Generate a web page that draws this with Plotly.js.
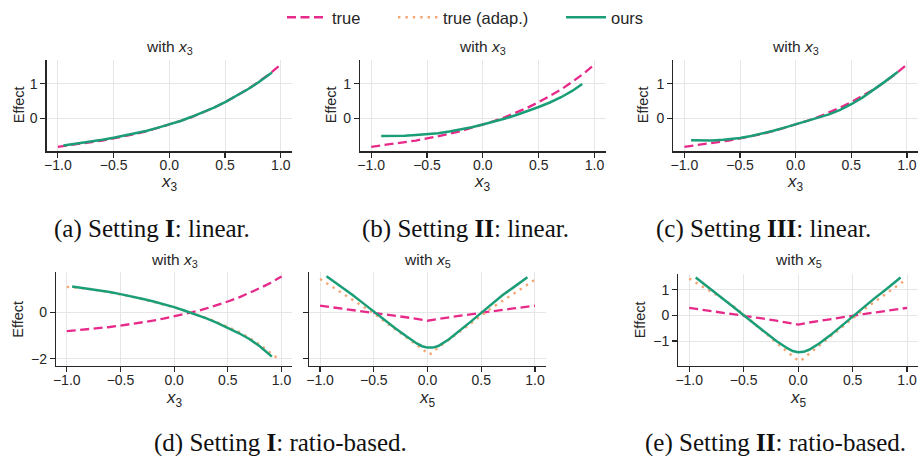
<!DOCTYPE html>
<html>
<head>
<meta charset="utf-8">
<script src="https://cdn.plot.ly/plotly-3.0.1.min.js"></script>
<style>
  html, body { margin: 0; padding: 0; background: #fff; }
  #fig { width: 918px; height: 456px; }
</style>
</head>
<body>
<div id="fig"></div>
<script>
// ---- data -------------------------------------------------------------
// grid of feature values for the reference ("true") curves
const xGrid = [-1.0,-0.9,-0.8,-0.7,-0.6,-0.5,-0.4,-0.3,-0.2,-0.1,0.0,0.1,0.2,0.3,0.4,0.5,0.6,0.7,0.8,0.9,1.0];
// true effect of x3 and x5
const trueX3 = [-0.81,-0.77,-0.73,-0.68,-0.63,-0.57,-0.51,-0.44,-0.36,-0.27,-0.17,-0.07,0.04,0.17,0.31,0.47,0.64,0.83,1.05,1.28,1.55];
const trueX5 = [0.29,0.23,0.17,0.11,0.05,0.00,-0.07,-0.14,-0.21,-0.28,-0.36,-0.28,-0.21,-0.14,-0.07,0.00,0.05,0.11,0.17,0.23,0.29];

// (a) Setting I, linear
const oursA_x = [-0.95,-0.9,-0.8,-0.7,-0.6,-0.5,-0.4,-0.3,-0.2,-0.1,0.0,0.1,0.2,0.3,0.4,0.5,0.6,0.7,0.8,0.92];
const oursA_y = [-0.77,-0.75,-0.70,-0.66,-0.61,-0.55,-0.49,-0.42,-0.35,-0.26,-0.17,-0.07,0.05,0.17,0.31,0.47,0.64,0.83,1.04,1.32];

// (b) Setting II, linear
const oursB_x = [-0.91,-0.8,-0.7,-0.6,-0.5,-0.4,-0.3,-0.2,-0.1,0.0,0.1,0.2,0.3,0.4,0.5,0.6,0.7,0.8,0.89];
const oursB_y = [-0.50,-0.50,-0.49,-0.47,-0.45,-0.42,-0.37,-0.32,-0.25,-0.17,-0.09,0.00,0.10,0.21,0.33,0.46,0.61,0.79,0.99];

// (c) Setting III, linear
const oursC_x = [-0.94,-0.85,-0.75,-0.65,-0.55,-0.5,-0.4,-0.3,-0.2,-0.1,0.0,0.1,0.2,0.3,0.4,0.5,0.6,0.7,0.8,0.92];
const oursC_y = [-0.62,-0.63,-0.63,-0.61,-0.58,-0.56,-0.50,-0.43,-0.35,-0.26,-0.17,-0.08,0.02,0.12,0.25,0.41,0.60,0.82,1.05,1.34];

// (d) Setting I, ratio-based: x3 panel
const adapD_x = [-1.0,-0.9,-0.8,-0.7,-0.6,-0.5,-0.4,-0.3,-0.2,-0.1,0.0,0.1,0.2,0.3,0.4,0.5,0.6,0.7,0.8,0.9,0.98];
const adapD_y = [1.10,1.07,1.02,0.95,0.87,0.78,0.69,0.58,0.47,0.35,0.22,0.08,-0.07,-0.24,-0.42,-0.62,-0.84,-1.10,-1.40,-1.76,-2.04];
const oursD_x = [-0.95,-0.9,-0.8,-0.7,-0.6,-0.5,-0.4,-0.3,-0.2,-0.1,0.0,0.1,0.2,0.3,0.4,0.5,0.6,0.7,0.8,0.91];
const oursD_y = [1.12,1.09,1.03,0.96,0.88,0.79,0.70,0.59,0.48,0.36,0.23,0.07,-0.08,-0.26,-0.45,-0.66,-0.89,-1.15,-1.47,-1.91];

// (d) Setting I, ratio-based: x5 panel
const adapD5_x = [-1.0,-0.9,-0.8,-0.7,-0.6,-0.5,-0.4,-0.3,-0.2,-0.1,0.0,0.02,0.1,0.2,0.3,0.4,0.5,0.6,0.7,0.8,0.9,1.0];
const adapD5_y = [1.44,1.15,0.85,0.56,0.27,-0.04,-0.39,-0.74,-1.08,-1.43,-1.78,-1.82,-1.52,-1.17,-0.82,-0.47,-0.12,0.20,0.50,0.80,1.10,1.41];
const oursD5_x = [-0.94,-0.8,-0.7,-0.6,-0.5,-0.4,-0.3,-0.2,-0.1,-0.05,0.0,0.05,0.1,0.2,0.3,0.4,0.5,0.6,0.7,0.8,0.93];
const oursD5_y = [1.56,1.10,0.76,0.40,0.03,-0.33,-0.68,-1.02,-1.34,-1.46,-1.52,-1.52,-1.45,-1.16,-0.80,-0.41,-0.02,0.37,0.75,1.08,1.52];

// (e) Setting II, ratio-based: x5 panel
const adapE_x = [-1.0,-0.9,-0.8,-0.7,-0.6,-0.5,-0.4,-0.3,-0.2,-0.1,0.0,0.02,0.1,0.2,0.3,0.4,0.5,0.6,0.7,0.8,0.9,1.0];
const adapE_y = [1.43,1.18,0.93,0.67,0.37,0.04,-0.34,-0.71,-1.07,-1.42,-1.76,-1.78,-1.50,-1.15,-0.80,-0.45,-0.10,0.22,0.52,0.82,1.12,1.42];
const oursE_x = [-0.94,-0.9,-0.8,-0.7,-0.6,-0.5,-0.4,-0.3,-0.2,-0.1,-0.05,0.0,0.05,0.1,0.2,0.3,0.4,0.5,0.6,0.7,0.8,0.94];
const oursE_y = [1.47,1.34,1.01,0.68,0.34,0.00,-0.34,-0.68,-1.00,-1.28,-1.39,-1.44,-1.42,-1.34,-1.08,-0.76,-0.40,-0.03,0.32,0.66,0.99,1.47];

const seriesNames = ['true', 'true (adap.)', 'ours'];
const captions = [
  '(a) Setting <b>I</b>: linear.',
  '(b) Setting <b>II</b>: linear.',
  '(c) Setting <b>III</b>: linear.',
  '(d) Setting <b>I</b>: ratio-based.',
  '(e) Setting <b>II</b>: ratio-based.'
];

// ---- styling ----------------------------------------------------------
const PINK = '#e7298a', PEACH = '#f5a673', GREEN = '#1b9e77';
const INK = '#262626', GRID = '#e6e6e6';
const SANS = 'Liberation Sans, Arial, sans-serif';
const W = 918, H = 456;

const lineTrue = {color: PINK, width: 2.3, dash: '9px,4.5px'};
const lineAdap = {color: PEACH, width: 2.4, dash: '2.4px,5px'};
const lineOurs = {color: GREEN, width: 2.5};

function tr(x, y, name, line, ax, legendId, show) {
  return {
    type: 'scatter', mode: 'lines', x: x, y: y, name: name, line: line,
    xaxis: 'x' + ax, yaxis: 'y' + ax, legend: legendId, showlegend: show,
    hoverinfo: 'skip'
  };
}

const traces = [
  // (a)
  tr(xGrid, trueX3, seriesNames[0], lineTrue, '', 'legend', true),
  tr(oursA_x, oursA_y, seriesNames[2], lineOurs, '', 'legend3', true),
  // (b)
  tr(xGrid, trueX3, seriesNames[0], lineTrue, '2', 'legend', false),
  tr(oursB_x, oursB_y, seriesNames[2], lineOurs, '2', 'legend3', false),
  // (c)
  tr(xGrid, trueX3, seriesNames[0], lineTrue, '3', 'legend', false),
  tr(oursC_x, oursC_y, seriesNames[2], lineOurs, '3', 'legend3', false),
  // (d) x3
  tr(xGrid, trueX3, seriesNames[0], lineTrue, '4', 'legend', false),
  tr(adapD_x, adapD_y, seriesNames[1], lineAdap, '4', 'legend2', true),
  tr(oursD_x, oursD_y, seriesNames[2], lineOurs, '4', 'legend3', false),
  // (d) x5
  tr(xGrid, trueX5, seriesNames[0], lineTrue, '5', 'legend', false),
  tr(adapD5_x, adapD5_y, seriesNames[1], lineAdap, '5', 'legend2', false),
  tr(oursD5_x, oursD5_y, seriesNames[2], lineOurs, '5', 'legend3', false),
  // (e) x5
  tr(xGrid, trueX5, seriesNames[0], lineTrue, '6', 'legend', false),
  tr(adapE_x, adapE_y, seriesNames[1], lineAdap, '6', 'legend2', false),
  tr(oursE_x, oursE_y, seriesNames[2], lineOurs, '6', 'legend3', false)
];

// pixel boxes of the six plotting areas: [left, right, top, bottom]
const boxes = [
  [46.7, 292, 59, 150.7],
  [360, 605.7, 59, 150.7],
  [673.3, 918, 59, 150.7],
  [56, 292.3, 271.7, 365.7],
  [309.3, 545.7, 271.7, 365.7],
  [678.3, 918, 273.3, 366]
];
const yRanges = [[-0.94, 1.68], [-0.94, 1.68], [-0.94, 1.68], [-2.31, 1.74], [-2.31, 1.74], [-1.98, 1.62]];
const yDticks = [1, 1, 1, 2, 2, 1];

const common = {
  showgrid: true, gridcolor: GRID, gridwidth: 1, zeroline: false,
  showline: true, linecolor: INK, linewidth: 1.25,
  ticks: 'outside', ticklen: 5, tickwidth: 1.25, tickcolor: INK,
  tickfont: {family: SANS, size: 14, color: INK}
};

const layout = {
  width: W, height: H,
  margin: {l: 0, r: 0, t: 0, b: 0},
  paper_bgcolor: '#fff', plot_bgcolor: '#fff',
  font: {family: SANS, color: INK},
  annotations: [], showlegend: true
};

boxes.forEach((b, i) => {
  const s = i === 0 ? '' : String(i + 1);
  layout['xaxis' + s] = Object.assign({}, common, {
    domain: [b[0] / W, b[1] / W], anchor: 'y' + s,
    range: [-1.1, 1.1], tick0: 0, dtick: 0.5, tickformat: '.1f',
    ticklabelstandoff: -4
  });
  layout['yaxis' + s] = Object.assign({}, common, {
    domain: [1 - b[3] / H, 1 - b[2] / H], anchor: 'x' + s,
    range: yRanges[i], tick0: 0, dtick: yDticks[i], tickformat: 'd',
    showticklabels: i !== 4
  });
});

const ann = layout.annotations;
const sub = ['3', '3', '3', '3', '5', '5'];
boxes.forEach((b, i) => {
  const cx = (b[0] + b[1]) / 2 / W;
  const row = i < 3 ? 0 : 1;
  // panel title
  ann.push({
    xref: 'paper', yref: 'paper', x: cx, y: 1 - (row ? 260 : 47) / H,
    xanchor: 'center', yanchor: 'middle', showarrow: false,
    text: 'with <i>x</i><sub>' + sub[i] + '</sub>',
    font: {family: SANS, size: 15.5, color: INK}
  });
  // x-axis title
  ann.push({
    xref: 'paper', yref: 'paper', x: cx, y: 1 - (row ? 399 : 182) / H,
    xanchor: 'center', yanchor: 'middle', showarrow: false,
    text: '<i>x</i><sub>' + sub[i] + '</sub>',
    font: {family: SANS, size: 17, color: INK}
  });
});
// y-axis titles
[[19, 104.5], [331, 104.5], [643, 104.5], [17.7, 318.7], [640, 320]].forEach(p => {
  ann.push({
    xref: 'paper', yref: 'paper', x: p[0] / W, y: 1 - p[1] / H,
    xanchor: 'center', yanchor: 'middle', showarrow: false, textangle: -90,
    text: 'Effect', font: {family: SANS, size: 14.5, color: INK}
  });
});
// sub-figure captions
[[152, 228], [465, 228], [763, 228], [280, 443], [775, 443]].forEach((p, i) => {
  ann.push({
    xref: 'paper', yref: 'paper', x: p[0] / W, y: 1 - p[1] / H,
    xanchor: 'center', yanchor: 'middle', showarrow: false,
    text: captions[i],
    font: {family: 'Liberation Serif, Times New Roman, serif', size: 25, color: '#111'}
  });
});

// one legend box per series, laid out in a row across the top
const legendBase = {
  orientation: 'h', yanchor: 'middle', y: 1 - 17 / H, xanchor: 'left',
  bgcolor: 'rgba(0,0,0,0)', borderwidth: 0, itemwidth: 40,
  font: {family: SANS, size: 16.5, color: INK}
};
layout.legend = Object.assign({}, legendBase, {x: 282 / W});
layout.legend2 = Object.assign({}, legendBase, {x: 393 / W});
layout.legend3 = Object.assign({}, legendBase, {x: 561 / W});

Plotly.newPlot('fig', traces, layout, {staticPlot: true, displayModeBar: false});
</script>
</body>
</html>
